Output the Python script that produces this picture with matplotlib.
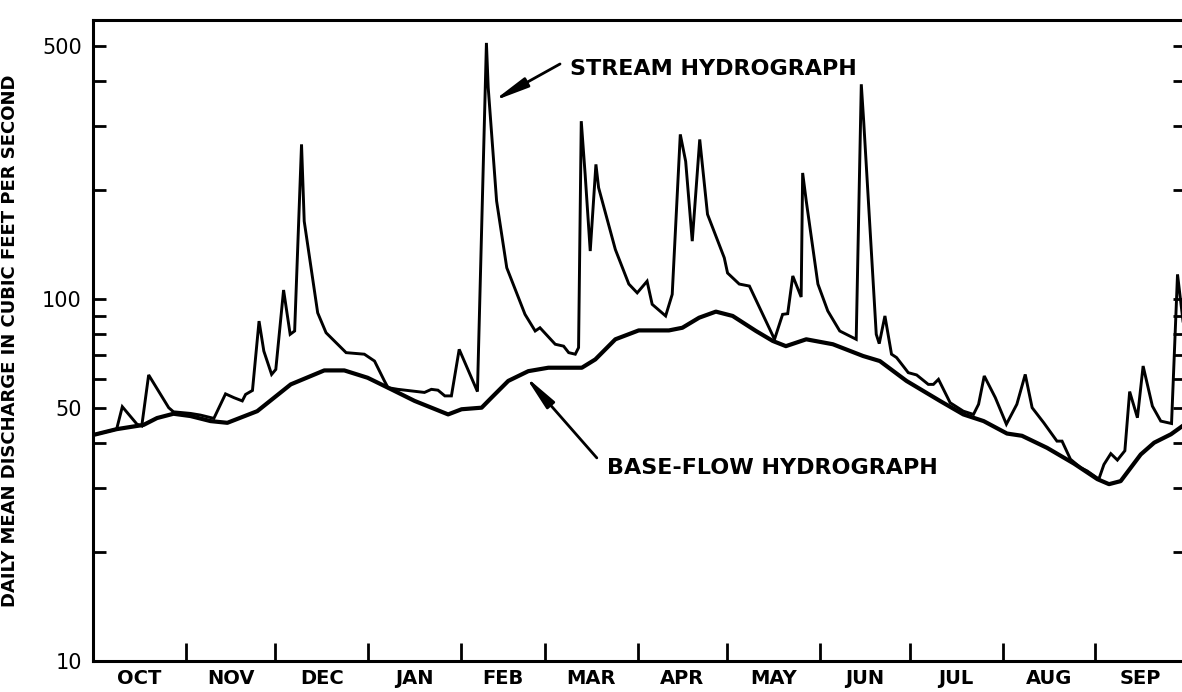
import numpy as np
import matplotlib
matplotlib.use('Agg')
import matplotlib.pyplot as plt
from matplotlib.ticker import FixedLocator, NullLocator

# water year, day 0 = 1 Oct
months = ['OCT', 'NOV', 'DEC', 'JAN', 'FEB', 'MAR', 'APR', 'MAY', 'JUN', 'JUL', 'AUG', 'SEP']
month_days = [31, 30, 31, 31, 28, 31, 30, 31, 30, 31, 31, 30]

# stream hydrograph (day, cfs)
stream_day = [0, 7.9, 9.8, 14.7, 16.3, 18.6, 25.3, 26.9, 32.6, 35.9, 40.4, 44.3, 47.1, 49.9,
              51.0, 53.3, 55.5, 57.1, 59.7, 61.1, 63.7, 65.9, 67.4, 69.7, 70.6, 75.1, 77.9,
              84.6, 90.7, 94.1, 97.4, 98.6, 101.9, 110.8, 113.1, 115.3, 117.6, 119.8, 122.4,
              128.5, 131.5, 132.1, 134.9, 138.3, 144.4, 147.8, 149.4, 154.5, 157.3, 159.0,
              161.2, 162.3, 163.2, 164.5, 166.2, 168.1, 169.0, 174.6, 179.1, 181.9, 185.2,
              186.9, 191.4, 193.6, 196.3, 198.1, 200.3, 202.8, 205.4, 211.0, 212.1, 216.0,
              219.4, 227.8, 230.5, 232.2, 233.9, 236.7, 237.2, 238.4, 242.3, 245.6, 249.6,
              255.1, 256.8, 257.6, 261.8, 262.8, 264.7, 266.9, 268.6, 272.5, 275.3, 279.2,
              280.9, 282.6, 286.5, 290.9, 294.3, 296.0, 297.9, 301.6, 305.3, 308.8, 311.6,
              313.9, 317.8, 322.2, 323.9, 326.7, 330.1, 332.3, 336.2, 337.9, 340.2, 342.4,
              344.9, 346.5, 349.1, 351.0, 354.1, 356.9, 360.5, 362.5, 365.0]
stream_q = [42.1, 43.7, 50.4, 45.1, 44.6, 61.7, 50.1, 48.8, 48.3, 47.8, 46.8, 54.7, 53.4, 52.3,
            54.5, 55.9, 86.9, 71.8, 61.9, 63.9, 105.9, 79.9, 81.6, 267.5, 164, 91.6, 80.7,
            71.1, 70.4, 67.4, 59.4, 56.9, 56.3, 55.2, 56.3, 56.0, 54.0, 54.0, 72.6,
            55.5, 510, 383.6, 186.6, 122, 90.7, 81.6, 83.3, 75.0, 74.1, 71.1,
            70.4, 73.4, 310, 221, 135.7, 235.5, 203, 137, 110, 104, 112,
            96.7, 89.8, 103, 285, 240, 144.5, 276, 171.4, 130, 118, 110,
            108.6, 77.4, 90.7, 91.1, 115.8, 101.3, 223, 186.6, 110, 92.7, 81.6,
            77.4, 392, 310, 79.9, 75.3, 89.8, 70.4, 68.9, 62.6, 61.7, 58.1,
            58.1, 60.0, 51.7, 49.0, 48.0, 51.2, 61.3, 53.4, 45.1, 51.2, 61.9,
            50.1, 45.5, 40.5, 40.5, 36.1, 34.2, 33.5, 31.8, 34.9, 37.4, 35.9,
            38.1, 55.5, 47.0, 65.3, 50.6, 46.0, 45.3, 117, 78.0]

# base-flow hydrograph (day, cfs)
base_day = [0, 7.9, 16.9, 21.4, 26.9, 32.6, 39.3, 44.9, 54.9, 66.1, 77.3, 84.0, 91.8, 99.7,
            107.5, 118.7, 123.2, 129.9, 133.2, 138.8, 145.5, 152.2, 163.4, 167.9, 174.6,
            182.4, 192.5, 197.0, 202.6, 208.2, 213.8, 221.6, 227.2, 231.6, 238.4, 247.3,
            257.4, 263.0, 271.9, 283.1, 290.9, 297.7, 305.5, 310.5, 318.9, 327.9, 335.7,
            339.6, 343.5, 350.2, 354.7, 360.3, 365.0]
base_q = [42.1, 43.7, 44.9, 46.9, 48.2, 47.5, 46.0, 45.5, 49.0, 58.1, 63.5, 63.5, 60.6, 56.3,
          52.3, 48.0, 49.6, 50.1, 53.4, 59.4, 63.2, 64.6, 64.6, 68.1, 77.4,
          81.9, 81.9, 83.3, 88.8, 92.3, 89.8, 81.6, 76.6, 74.1, 77.4, 75.0,
          69.6, 67.4, 59.4, 52.3, 48.0, 46.0, 42.5, 41.9, 38.8, 35.1, 31.8,
          30.8, 31.4, 37.2, 40.1, 42.3, 45.1]

y_ticks = [10, 20, 30, 40, 50, 60, 70, 80, 90, 100, 200, 300, 400, 500]
y_labels = ['10', '', '', '', '50', '', '', '', '', '100', '', '', '', '500']

fig = plt.figure(figsize=(11.82, 6.92), dpi=100)
ax = fig.add_axes([93 / 1182, 31 / 692, 1092 / 1182, 641 / 692])

ax.plot(stream_day, stream_q, color='black', lw=2.1, solid_joinstyle='miter')
ax.plot(base_day, base_q, color='black', lw=3.0, solid_joinstyle='round')

ax.set_yscale('log')
ax.set_xlim(0, 365)
ax.set_ylim(10, 590)

ax.yaxis.set_major_locator(FixedLocator(y_ticks))
ax.yaxis.set_minor_locator(NullLocator())
ax.set_yticklabels(y_labels)

bounds = np.cumsum([0] + month_days)
ax.set_xticks(bounds[1:-1])
ax.set_xticklabels([])
ax.set_xticks((bounds[:-1] + bounds[1:]) / 2, minor=True)
ax.set_xticklabels(months, minor=True, fontsize=14, fontweight='bold')

ax.tick_params(axis='x', which='major', direction='in', length=13, width=2)
ax.tick_params(axis='x', which='minor', length=0, pad=6)
ax.tick_params(axis='y', which='major', direction='in', length=9, width=2,
               right=True, labelsize=15, pad=8)

for s in ax.spines.values():
    s.set_linewidth(2.2)

ax.set_ylabel('DAILY MEAN DISCHARGE IN CUBIC FEET PER SECOND', fontsize=13,
              fontweight='bold')
ax.yaxis.set_label_coords(-0.068, 0.5)

# labels and pointer arrows
arrow = dict(arrowstyle='-|>,head_length=1.5,head_width=0.22', color='black',
             lw=2, shrinkA=0, shrinkB=0, mutation_scale=14)
ax.annotate('', xy=(133.7, 352), xytext=(156.1, 446), arrowprops=arrow)
ax.text(159.4, 431, 'STREAM HYDROGRAPH', fontsize=16, fontweight='bold',
        va='center', ha='left')
ax.annotate('', xy=(144.4, 61.3), xytext=(168.4, 36.4), arrowprops=arrow)
ax.text(171.8, 34.1, 'BASE-FLOW HYDROGRAPH', fontsize=16, fontweight='bold',
        va='center', ha='left')

plt.savefig('out.png', dpi=100)
